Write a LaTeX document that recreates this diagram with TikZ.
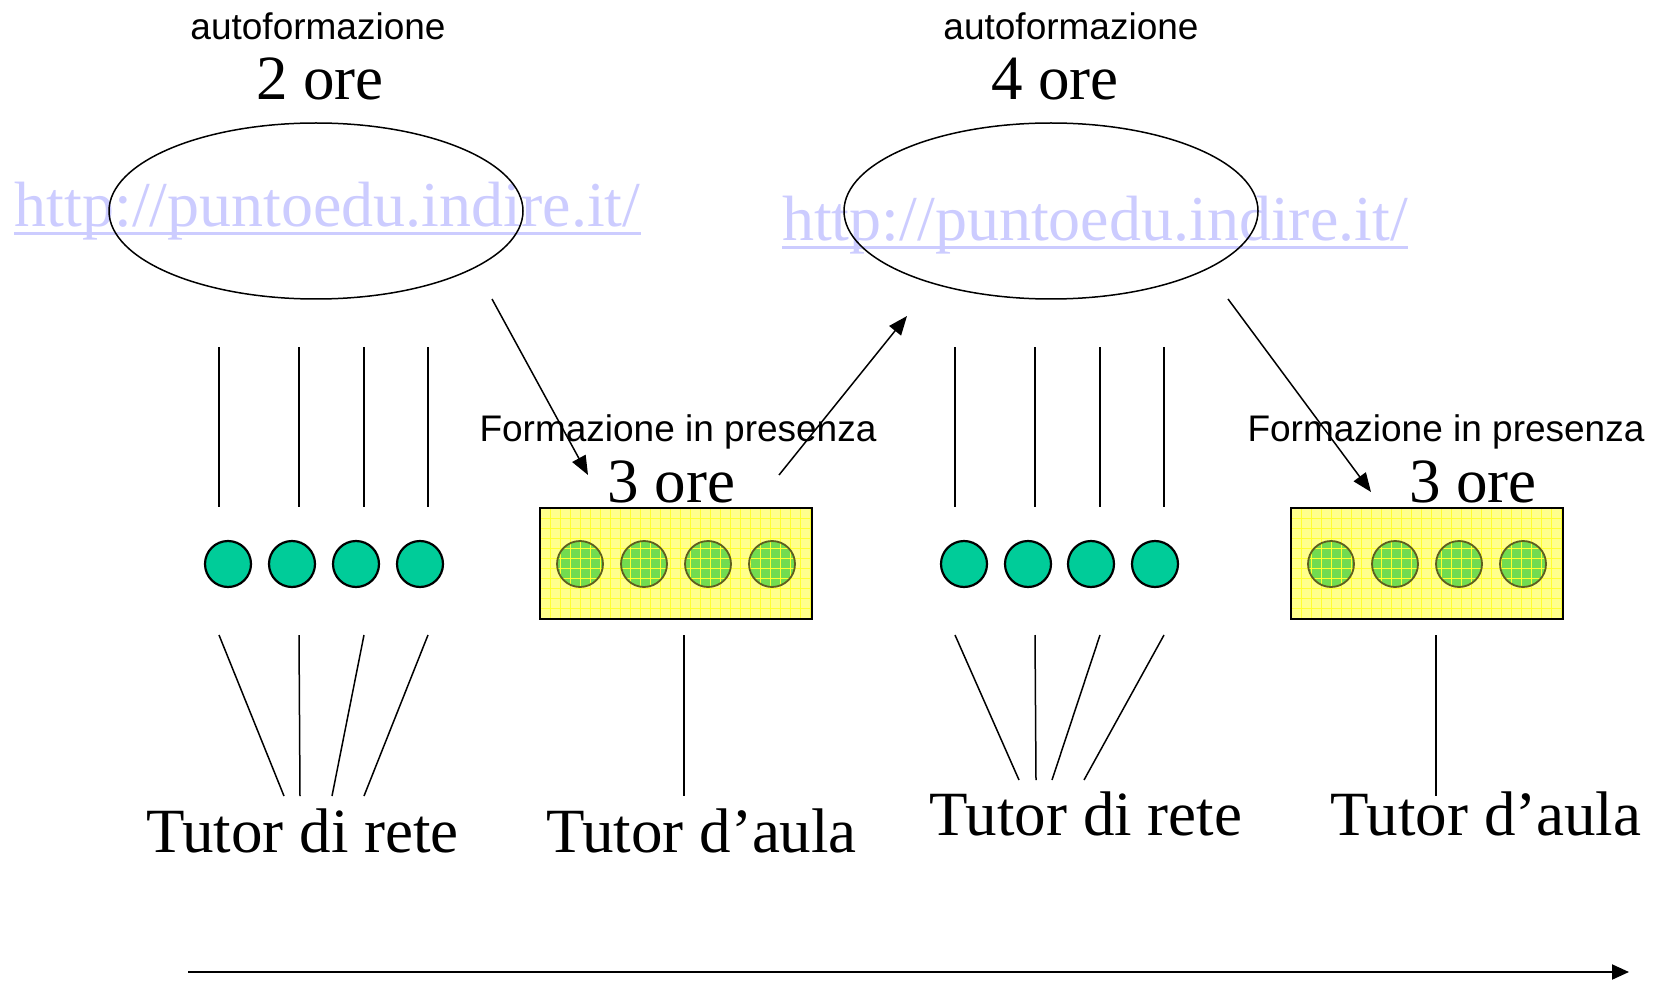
\documentclass[tikz,border=0pt]{standalone}
\usepackage{fontspec}
\setmainfont{Liberation Serif}
\newfontfamily\arialfont{Liberation Sans}
\usetikzlibrary{arrows.meta,shapes.geometric}
\definecolor{tealdot}{HTML}{00CC99}
\definecolor{urlblue}{HTML}{CCCCFF}
\definecolor{padyellow}{HTML}{FFFF8C}
\definecolor{gridyellow}{HTML}{FFFF30}
\definecolor{greendot}{HTML}{72DC50}
\definecolor{olivering}{HTML}{5E5E1E}

% a yellow gridded pad holding four green dots; #1 = name, #2 = left edge
\newcommand{\gridpad}[2]{%
  \node[padbox] (#1) at (#2+136,563.5) {};
  \foreach \k in {0,1,2,3}
    \fill[greendot] (#2+40+64*\k,564) circle[radius=23];
  \begin{scope}
    \clip (#1.north west) rectangle (#1.south east);
    \foreach \gx in {0,10,...,280}
      \draw[gridline] (#2+\gx,508) -- (#2+\gx,619);
    \foreach \gy in {508,518,...,620}
      \draw[gridline] (#2,\gy) -- (#2+272,\gy);
  \end{scope}
  \foreach \k in {0,1,2,3}
    \draw[olivering, line width=1.8pt] (#2+40+64*\k,564) circle[radius=23];
  \draw[black, line width=2pt] (#1.north west) rectangle (#1.south east);
}

\begin{document}
\begin{tikzpicture}[x=1pt,y=-1pt,
  big/.style={font=\fontsize{63}{63}\selectfont, inner sep=0, anchor=base},
  small/.style={font=\arialfont\fontsize{37}{37}\selectfont, inner sep=0, anchor=base},
  url/.style={font=\fontsize{64}{64}\selectfont, text=urlblue, inner sep=0, anchor=base},
  urlline/.style={urlblue, line width=3pt},
  link/.style={line width=1.5pt},
  arr/.style={line width=1.5pt, -{Triangle[length=19pt,width=15pt]}},
  dot/.style={circle, draw, line width=2.2pt, fill=tealdot, minimum size=46pt, inner sep=0},
  cloud/.style={ellipse, draw, line width=1.5pt, minimum width=414pt, minimum height=176pt, inner sep=0},
  padbox/.style={rectangle, fill=padyellow, minimum width=272pt, minimum height=111pt, inner sep=0},
  gridline/.style={gridyellow, line width=0.8pt}
]
\useasboundingbox (0,0) rectangle (1653,981);

% --- titles of the self-study blocks
\node[small] (af1) at (318,40) {autoformazione};
\node[big] (h1) at (320,100) {2 ore};
\node[small] (af2) at (1071,40) {autoformazione};
\node[big] (h2) at (1055,100) {4 ore};

% --- web addresses and their underlines
\node[url] (u1) at (327.5,227) {http://puntoedu.indire.it/};
\draw[urlline] ([yshift=-7pt]u1.base west) -- ([yshift=-7pt]u1.base east);
\node[url] (u2) at (1095,241) {http://puntoedu.indire.it/};
\draw[urlline] ([yshift=-7pt]u2.base west) -- ([yshift=-7pt]u2.base east);

% --- online platforms
\node[cloud] (e1) at (316,211) {};
\node[cloud] (e2) at (1051,211) {};

% --- classroom blocks
\node[small] (fp1) at (678,441) {Formazione in presenza};
\node[big] (h3) at (671.5,502) {3 ore};
\node[small] (fp2) at (1446,441) {Formazione in presenza};
\node[big] (h4) at (1473,502) {3 ore};

\gridpad{pad1}{540}
\gridpad{pad2}{1291}

% --- individual participants (teal dots) with their links
\foreach \x/\dx/\bx [count=\i] in {219/228/284,299/292/300,364/356/332,428/420/364} {
  \node[dot] (d1\i) at (\dx,564) {};
  \coordinate (t1\i) at (\x,347);
  \coordinate (m1\i) at (\x,507);
  \coordinate (l1\i) at (\x,635);
  \coordinate (b1\i) at (\bx,796);
  \draw[link] (t1\i) -- (m1\i);
  \draw[link] (l1\i) -- (b1\i);
}
\foreach \x/\dx/\bx [count=\i] in {955/964/1019,1035/1028/1036,1100/1091/1052,1164/1155/1084} {
  \node[dot] (d2\i) at (\dx,564) {};
  \coordinate (t2\i) at (\x,347);
  \coordinate (m2\i) at (\x,507);
  \coordinate (l2\i) at (\x,635);
  \coordinate (b2\i) at (\bx,780);
  \draw[link] (t2\i) -- (m2\i);
  \draw[link] (l2\i) -- (b2\i);
}

% --- classroom tutor links
\coordinate (pl1) at (684,635);
\coordinate (pb1) at (684,796);
\draw[link] (pl1) -- (pb1);
\coordinate (pl2) at (1436,635);
\coordinate (pb2) at (1436,796);
\draw[link] (pl2) -- (pb2);

% --- tutor labels
\node[big] (tr1) at (302.5,852) {Tutor di rete};
\node[big] (ta1) at (701.5,852) {Tutor d’aula};
\node[big] (tr2) at (1086,835) {Tutor di rete};
\node[big] (ta2) at (1486,835) {Tutor d’aula};

% --- flow arrows between phases
\coordinate (a1s) at (492,299);
\coordinate (a1e) at (588,475);
\draw[arr] (a1s) -- (a1e);
\coordinate (a2s) at (779,475);
\coordinate (a2e) at (907,316);
\draw[arr] (a2s) -- (a2e);
\coordinate (a3s) at (1228,299);
\coordinate (a3e) at (1371,492);
\draw[arr] (a3s) -- (a3e);

% --- time axis
\coordinate (ts) at (188,972);
\coordinate (te) at (1629,972);
\draw[line width=2pt, -{Triangle[length=17pt,width=15pt]}] (ts) -- (te);
\end{tikzpicture}
\end{document}
